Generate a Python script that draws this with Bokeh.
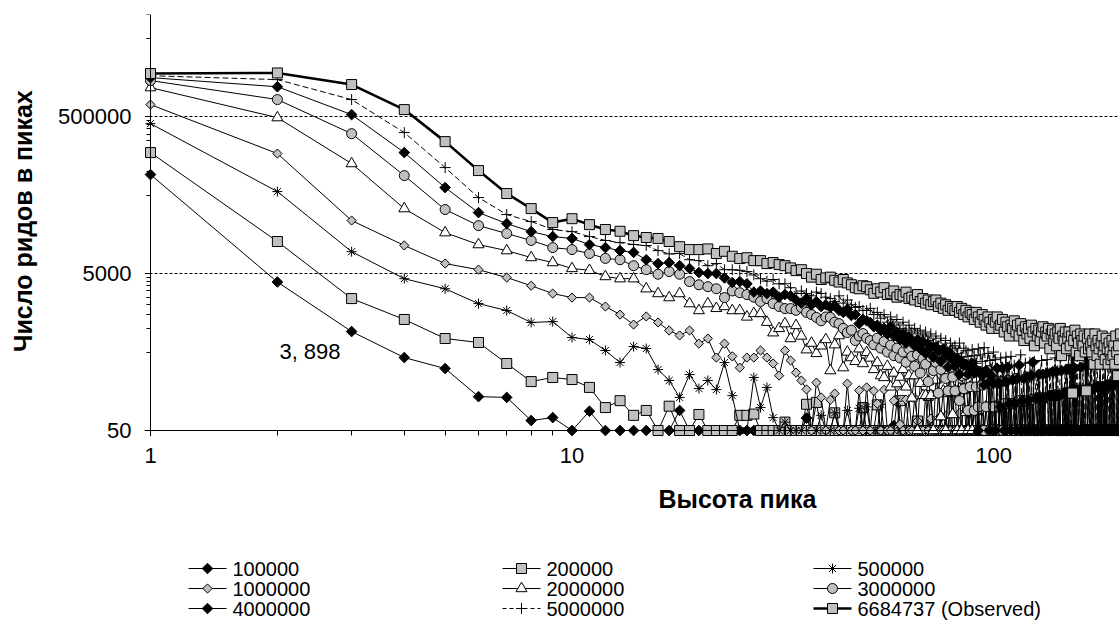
import numpy as np
from bokeh.plotting import figure
from bokeh.models import Range1d, FixedTicker, CustomJSTickFormatter, Label, LogAxis
from bokeh.layouts import column, row
from bokeh.embed import file_html
from bokeh.resources import INLINE
from bokeh.core.properties import value

# ---------------- data ----------------
heights = list(range(1, 201))

s_100000 = [
    91200, 3898, 912, 425, 308, 135, 132, 67, 73, 50,
    88, 50, 50, 50, 50, 50, 50, 90, 50, 50,
    50, 50, 50, 50, 50, 50, 50, 50, 50, 50,
    50, 50, 50, 50, 50, 72, 50, 50, 50, 50,
    50, 50, 50, 50, 50, 50, 50, 50, 50, 50,
    50, 50, 50, 50, 50, 50, 50, 58, 50, 50,
    50, 50, 50, 50, 50, 50, 50, 50, 50, 50,
    50, 50, 50, 50, 75, 50, 50, 50, 50, 50,
    50, 50, 50, 50, 50, 50, 50, 88, 50, 50,
    50, 50, 50, 50, 50, 50, 50, 50, 50, 50,
    50, 50, 50, 104, 50, 50, 50, 50, 50, 50,
    50, 50, 50, 50, 50, 50, 50, 50, 50, 50,
    50, 50, 50, 50, 50, 50, 50, 50, 50, 50,
    131, 50, 50, 50, 50, 50, 50, 50, 50, 50,
    50, 50, 50, 50, 50, 50, 50, 50, 50, 50,
    50, 50, 50, 50, 50, 50, 157, 50, 50, 50,
    50, 50, 50, 50, 50, 50, 50, 50, 50, 50,
    50, 50, 50, 50, 50, 50, 50, 50, 50, 50,
    50, 50, 183, 50, 50, 50, 50, 50, 50, 50,
    50, 50, 50, 50, 50, 50, 50, 50, 50, 50,
]
s_200000 = [
    174000, 12800, 2400, 1300, 743, 661, 357, 210, 237, 223,
    177, 98, 120, 78, 90, 50, 102, 50, 50, 80,
    50, 50, 50, 50, 78, 78, 81, 50, 50, 50,
    50, 64, 50, 50, 50, 108, 50, 114, 50, 50,
    50, 84, 50, 50, 50, 50, 50, 50, 98, 50,
    50, 50, 106, 50, 50, 50, 50, 50, 50, 120,
    50, 50, 50, 50, 50, 66, 50, 50, 50, 140,
    50, 50, 50, 50, 50, 50, 50, 156, 50, 50,
    50, 50, 50, 50, 170, 50, 50, 50, 50, 50,
    50, 92, 50, 50, 50, 50, 50, 50, 50, 100,
    50, 50, 50, 50, 50, 50, 50, 50, 109, 50,
    50, 50, 50, 50, 50, 50, 50, 118, 50, 50,
    50, 50, 50, 50, 50, 50, 50, 50, 50, 130,
    50, 50, 50, 50, 50, 50, 50, 50, 139, 50,
    50, 50, 50, 50, 50, 50, 50, 50, 50, 150,
    50, 50, 50, 50, 155, 50, 50, 50, 50, 50,
    50, 50, 163, 50, 50, 50, 50, 50, 50, 50,
    50, 50, 50, 50, 50, 50, 50, 50, 50, 180,
    50, 50, 50, 50, 50, 50, 50, 50, 50, 50,
    50, 50, 50, 50, 50, 50, 50, 50, 50, 50,
]
s_500000 = [
    407000, 55400, 9500, 4300, 3200, 2070, 1690, 1190, 1220, 766,
    722, 523, 367, 587, 554, 299, 217, 132, 258, 171,
    217, 166, 367, 139, 50, 50, 237, 98, 177, 73,
    50, 64, 50, 50, 50, 72, 50, 50, 78, 50,
    50, 84, 50, 50, 90, 50, 50, 96, 50, 100,
    50, 50, 50, 108, 50, 50, 50, 50, 118, 50,
    50, 50, 126, 50, 50, 50, 50, 50, 50, 50,
    142, 50, 50, 50, 50, 50, 50, 50, 158, 50,
    50, 50, 50, 50, 50, 50, 50, 50, 50, 180,
    50, 50, 50, 50, 50, 50, 50, 50, 50, 50,
    50, 50, 50, 50, 50, 50, 107, 50, 50, 50,
    50, 50, 50, 50, 50, 50, 50, 50, 50, 50,
    50, 50, 50, 124, 50, 50, 50, 50, 50, 50,
    50, 50, 50, 50, 50, 50, 50, 50, 50, 50,
    50, 50, 50, 50, 50, 50, 50, 148, 50, 50,
    50, 50, 50, 50, 50, 50, 50, 50, 50, 50,
    50, 50, 50, 50, 50, 50, 50, 50, 50, 50,
    50, 50, 50, 50, 50, 50, 177, 50, 50, 50,
    50, 50, 50, 50, 50, 50, 50, 50, 50, 50,
    50, 50, 50, 50, 50, 50, 50, 50, 50, 50,
]
s_1000000 = [
    711000, 169000, 23700, 11400, 6700, 5600, 4450, 3500, 2780, 2470,
    2470, 1900, 1500, 1120, 1420, 1190, 940, 813, 940, 640,
    743, 425, 640, 440, 316, 425, 425, 523, 425, 357,
    250, 523, 390, 273, 217, 167, 50, 204, 132, 50,
    123, 148, 50, 50, 198, 50, 50, 162, 50, 177,
    50, 160, 110, 50, 165, 50, 50, 120, 180, 60,
    50, 124, 50, 50, 130, 66, 50, 50, 138, 50,
    71, 50, 50, 148, 50, 50, 77, 50, 50, 160,
    50, 50, 83, 50, 50, 50, 87, 50, 50, 90,
    50, 50, 50, 94, 50, 50, 50, 50, 99, 50,
    50, 50, 50, 50, 105, 50, 50, 50, 50, 50,
    50, 50, 50, 50, 50, 50, 50, 50, 50, 120,
    50, 50, 50, 50, 50, 50, 50, 50, 50, 50,
    50, 50, 50, 50, 50, 50, 50, 50, 50, 140,
    50, 50, 50, 50, 50, 50, 50, 50, 50, 50,
    50, 50, 50, 50, 50, 50, 50, 50, 50, 50,
    50, 50, 50, 50, 50, 50, 50, 50, 50, 50,
    50, 50, 50, 50, 50, 50, 50, 50, 50, 50,
    50, 50, 50, 50, 50, 50, 50, 50, 50, 50,
    50, 50, 50, 50, 50, 50, 50, 50, 50, 50,
]
s_2000000 = [
    1170000, 485000, 126000, 33600, 16600, 11700, 9800, 8000, 6900, 5800,
    5500, 4580, 4300, 4300, 3200, 2780, 2470, 2780, 2070, 1690,
    2070, 1800, 1900, 1690, 1690, 1400, 1550, 1550, 1200, 880,
    1000, 1150, 743, 1090, 800, 535, 650, 480, 600, 722,
    290, 620, 810, 316, 500, 425, 380, 550, 357, 495,
    420, 300, 367, 250, 237, 330, 180, 270, 198, 240,
    300, 180, 250, 130, 250, 50, 200, 140, 140, 210,
    140, 50, 220, 150, 75, 160, 50, 160, 240, 80,
    160, 50, 170, 50, 170, 85, 50, 180, 50, 90,
    90, 50, 190, 50, 50, 100, 50, 200, 50, 50,
    100, 50, 50, 210, 50, 50, 110, 50, 50, 50,
    50, 110, 50, 50, 50, 120, 50, 50, 50, 50,
    50, 50, 125, 50, 50, 50, 50, 50, 130, 50,
    50, 50, 50, 50, 50, 50, 50, 50, 50, 140,
    50, 50, 50, 50, 50, 50, 50, 50, 50, 50,
    50, 50, 50, 50, 50, 50, 50, 50, 50, 160,
    50, 50, 50, 50, 50, 50, 50, 50, 50, 50,
    50, 50, 50, 50, 50, 50, 50, 50, 50, 50,
    50, 50, 50, 50, 50, 50, 50, 50, 50, 50,
    50, 50, 50, 50, 50, 50, 50, 50, 50, 50,
]
s_3000000 = [
    1440000, 824000, 303000, 88600, 32700, 20400, 16200, 13200, 10700, 10100,
    9000, 7800, 7500, 6300, 5600, 4900, 5300, 4900, 3950, 3600,
    3400, 3200, 2470, 3000, 2850, 2700, 2500, 2200, 2400, 2070,
    1900, 1790, 1790, 1700, 1850, 1600, 1500, 1380, 1250, 1400,
    1380, 1200, 1150, 1000, 885, 950, 700, 800, 860, 750,
    700, 620, 750, 560, 680, 500, 610, 450, 560, 420,
    500, 370, 550, 440, 330, 460, 270, 410, 350, 210,
    430, 290, 370, 150, 300, 380, 230, 160, 320, 240,
    160, 330, 120, 250, 170, 260, 90, 180, 270, 90,
    180, 100, 280, 190, 50, 100, 290, 50, 200, 100,
    50, 200, 50, 210, 50, 110, 50, 220, 50, 110,
    50, 50, 230, 50, 120, 50, 50, 120, 50, 50,
    240, 50, 50, 125, 50, 50, 50, 130, 50, 50,
    50, 130, 50, 50, 50, 50, 140, 50, 50, 50,
    50, 50, 140, 50, 50, 50, 50, 50, 150, 50,
    50, 50, 50, 50, 50, 155, 50, 50, 50, 50,
    50, 50, 50, 50, 50, 50, 50, 170, 50, 50,
    50, 50, 50, 50, 50, 50, 50, 50, 50, 50,
    50, 50, 50, 50, 185, 50, 50, 50, 50, 50,
    50, 50, 50, 50, 50, 50, 50, 50, 50, 50,
]
s_4000000 = [
    1570000, 1200000, 530000, 174000, 62300, 29900, 21700, 17100, 14800, 14000,
    11700, 10700, 9800, 9300, 7500, 6700, 6900, 6300, 5800, 5150,
    5000, 5000, 4400, 3850, 3950, 3700, 2900, 3000, 2780, 2900,
    2500, 2700, 2600, 2300, 2100, 2400, 2000, 2200, 1900, 2000,
    1850, 1950, 1700, 1600, 1750, 1460, 1500, 1150, 1300, 1250,
    1190, 1050, 1100, 950, 1000, 850, 1050, 800, 900, 720,
    850, 650, 780, 700, 600, 720, 550, 680, 480, 630,
    570, 430, 580, 520, 380, 540, 460, 320, 480, 400,
    330, 420, 260, 380, 340, 350, 260, 300, 360, 270,
    300, 50, 280, 250, 190, 290, 200, 50, 250, 200,
    50, 310, 200, 100, 310, 50, 210, 320, 110, 50,
    220, 110, 50, 230, 340, 50, 120, 230, 50, 240,
    120, 50, 250, 370, 50, 130, 50, 260, 130, 50,
    260, 50, 130, 270, 50, 140, 50, 280, 140, 50,
    280, 50, 140, 50, 290, 50, 150, 50, 300, 150,
    50, 300, 50, 150, 50, 310, 50, 160, 50, 160,
    320, 50, 160, 50, 50, 330, 50, 170, 50, 340,
    50, 170, 50, 350, 50, 50, 180, 50, 360, 50,
    180, 50, 50, 370, 50, 190, 50, 50, 190, 50,
    380, 50, 190, 50, 50, 390, 50, 200, 50, 50,
]
s_5000000 = [
    1660000, 1480000, 824000, 313000, 112000, 46500, 28200, 23000, 18200, 17100,
    14800, 13200, 12400, 11700, 11400, 9800, 8900, 9000, 7500, 7300,
    6300, 6700, 5600, 5600, 5500, 5300, 4800, 4300, 4000, 4200,
    3700, 3700, 3300, 2780, 3000, 2780, 2600, 2900, 2780, 2500,
    2400, 2200, 2600, 2100, 2300, 2000, 1850, 1900, 1700, 1690,
    1800, 1500, 1600, 1350, 1500, 1200, 1400, 1100, 1300, 1000,
    1200, 950, 1100, 900, 1000, 850, 950, 800, 900, 700,
    850, 650, 800, 600, 750, 550, 700, 500, 650, 560,
    600, 480, 650, 430, 560, 520, 440, 350, 540, 450,
    360, 550, 460, 380, 570, 290, 480, 390, 300, 500,
    400, 310, 50, 420, 320, 210, 430, 50, 330, 440,
    220, 340, 50, 230, 350, 460, 50, 240, 360, 120,
    50, 370, 250, 50, 380, 130, 250, 50, 260, 390,
    130, 50, 270, 400, 50, 270, 140, 50, 280, 420,
    140, 290, 50, 430, 290, 50, 150, 300, 50, 300,
    450, 50, 310, 150, 50, 310, 160, 470, 50, 320,
    160, 50, 330, 50, 165, 330, 50, 340, 170, 50,
    340, 50, 350, 175, 50, 350, 180, 50, 360, 50,
    180, 360, 50, 370, 50, 190, 370, 50, 380, 190,
    50, 380, 50, 390, 195, 50, 390, 50, 200, 400,
]
s_observed = [
    1770000, 1800000, 1280000, 614000, 240000, 102600, 52300, 33600, 22300, 25000,
    21000, 18200, 17300, 15200, 14400, 14000, 12800, 11000, 10100, 10100,
    10300, 9000, 9600, 8300, 7760, 7950, 7300, 7300, 6700, 6900,
    6500, 6300, 5900, 5450, 5600, 5000, 4500, 4900, 4200, 4400,
    4500, 4100, 3900, 4200, 3800, 3600, 3300, 3200, 3500, 3400,
    3100, 2800, 3200, 2900, 3300, 2700, 2800, 3000, 2500, 2700,
    2600, 2900, 2400, 2500, 2300, 2700, 2200, 2400, 2100, 2300,
    2000, 2200, 2300, 1900, 2100, 1800, 2000, 1700, 1900, 1800,
    1700, 1900, 1600, 1800, 1500, 1700, 1400, 1600, 1500, 1300,
    1600, 1400, 1200, 1500, 1300, 1100, 1400, 1200, 1000, 1300,
    1200, 1400, 1000, 1100, 1300, 900, 1200, 1050, 800, 1100,
    1000, 1250, 900, 1100, 800, 1150, 950, 700, 1050, 850,
    1000, 750, 1100, 900, 600, 1000, 800, 950, 700, 900,
    1050, 650, 900, 800, 1000, 550, 850, 950, 700, 850,
    600, 900, 750, 1000, 450, 800, 700, 900, 550, 750,
    900, 600, 800, 150, 700, 950, 500, 800, 650, 450,
    850, 700, 600, 800, 500, 160, 750, 550, 850, 600,
    500, 700, 350, 850, 600, 450, 700, 550, 350, 650,
    800, 500, 600, 400, 750, 550, 350, 650, 500, 400,
    700, 450, 600, 350, 800, 500, 250, 600, 400, 850,
]

series_names = ["100000", "200000", "500000", "1000000", "2000000",
                "3000000", "4000000", "5000000", "6684737 (Observed)"]
series_values = [s_100000, s_200000, s_500000, s_1000000, s_2000000,
                 s_3000000, s_4000000, s_5000000, s_observed]

x_major = [1, 10, 100]
x_minor = [2, 3, 4, 5, 6, 7, 8, 9, 20, 30, 40, 50, 60, 70, 80, 90, 200]
y_major = [50, 5000, 500000]
y_minor = [500, 1000, 1500, 2000, 2500, 3000, 3500, 4000, 4500,
           50000, 100000, 150000, 200000, 250000, 300000, 350000, 400000, 450000,
           5000000, 10000000]

x_title = "Высота пика"
y_title = "Число ридов в пиках"
point_label = "3, 898"

# ---------------- styles ----------------
GRAY = "#C0C0C0"
D45 = np.pi / 4
styles = [
    dict(marker="square", size=7.5, angle=D45, fill="black", lw=1, dash="solid"),
    dict(marker="square", size=10, angle=0, fill=GRAY, lw=1, dash="solid"),
    dict(marker="asterisk", size=10, angle=0, fill=None, lw=1, dash="solid"),
    dict(marker="square", size=6.5, angle=D45, fill=GRAY, lw=1, dash="solid"),
    dict(marker="triangle", size=11, angle=0, fill="white", lw=1, dash="solid"),
    dict(marker="circle", size=10, angle=0, fill=GRAY, lw=1, dash="solid"),
    dict(marker="square", size=7.5, angle=D45, fill="black", lw=1, dash="solid"),
    dict(marker="cross", size=11, angle=0, fill=None, lw=1, dash="6 3"),
    dict(marker="square", size=10, angle=0, fill=GRAY, lw=2.6, dash="solid"),
]

FONT = "Liberation Sans"

def strip(w, h):
    f = figure(width=w, height=h, x_range=Range1d(0, w), y_range=Range1d(h, 0),
               min_border=0, output_backend="svg", toolbar_location=None, title=None,
               x_axis_location=None, y_axis_location=None)
    f.grid.visible = False
    f.outline_line_color = None
    return f

# ---------------- main plot ----------------
# the frame is a few pixels larger than the axes box so that markers sitting
# on the axes are not cut; axis lines/ticks are pinned at x=1 and y=50.
p = figure(width=1079, height=486, x_axis_type="log", y_axis_type="log",
           x_range=Range1d(0.9677, 199.0), y_range=Range1d(41.93, 1e7),
           min_border_left=104, min_border_right=0, min_border_top=14,
           min_border_bottom=50, output_backend="svg", toolbar_location=None,
           title=None)
p.outline_line_color = None

for name, vals, st in zip(series_names, series_values, styles):
    p.line(heights, vals, line_color="black", line_width=st["lw"], line_dash=st["dash"])
    p.scatter(heights, vals, marker=st["marker"], size=st["size"], angle=st["angle"],
              fill_color=st["fill"], line_color="black", line_width=1)

# label-only axes at the frame edges
p.xaxis.ticker = FixedTicker(ticks=x_major, minor_ticks=[])
p.yaxis.ticker = FixedTicker(ticks=y_major, minor_ticks=[])
p.xaxis.formatter = CustomJSTickFormatter(code="return String(Math.round(tick));")
p.yaxis.formatter = CustomJSTickFormatter(code="return String(Math.round(tick));")
for ax in (p.xaxis, p.yaxis):
    ax.axis_line_color = None
    ax.major_tick_line_color = None
    ax.minor_tick_line_color = None
    ax.major_tick_in = 0
    ax.major_tick_out = 0
    ax.minor_tick_in = 0
    ax.minor_tick_out = 0
    ax.major_label_text_font = FONT
    ax.major_label_text_font_size = "22px"
    ax.major_label_text_color = "black"
p.xaxis.major_label_standoff = 11
p.yaxis.major_label_standoff = 13

# line + tick axes pinned at x=1 / y=50
blank = "return '';"
xline = LogAxis(ticker=FixedTicker(ticks=x_major, minor_ticks=x_minor),
                formatter=CustomJSTickFormatter(code=blank),
                fixed_location=y_major[0], major_tick_in=0, major_tick_out=5,
                minor_tick_in=0, minor_tick_out=5, major_label_standoff=0,
                major_label_text_font_size="1px", axis_line_color="black",
                major_tick_line_color="black", minor_tick_line_color="black")
yline = LogAxis(ticker=FixedTicker(ticks=y_major, minor_ticks=y_minor),
                formatter=CustomJSTickFormatter(code=blank),
                fixed_location=x_major[0], major_tick_in=0, major_tick_out=5,
                minor_tick_in=0, minor_tick_out=4, major_label_standoff=0,
                major_label_text_font_size="1px", axis_line_color="black",
                major_tick_line_color="black", minor_tick_line_color="black")
p.add_layout(xline, "below")
p.add_layout(yline, "left")

p.xgrid.visible = False
p.ygrid.grid_line_color = "black"
p.ygrid.grid_line_dash = "3 2"
p.ygrid.grid_line_width = 1

p.add_layout(Label(x=heights[1], y=s_100000[1], x_offset=2, y_offset=-69,
                   text=point_label, text_font=FONT, text_font_size="22px",
                   text_align="left", text_baseline="middle", text_color="black"))

# ---------------- y title strip ----------------
yt = strip(40, 486)
yt.text([22], [238], text=[y_title], angle=np.pi / 2, text_font=value(FONT),
        text_font_size="25px", text_font_style="bold", text_align="center",
        text_baseline="middle", text_color="black")

# ---------------- bottom strip: x title + legend ----------------
lg = strip(1119, 135)
lg.text([737], [12], text=[x_title], text_font=value(FONT), text_font_size="25px",
        text_font_style="bold", text_align="center", text_baseline="middle",
        text_color="black")

col_x = [188, 502, 813]
row_y = [82, 102, 122]
for i, (name, st) in enumerate(zip(series_names, styles)):
    x0 = col_x[i % 3]
    yc = row_y[i // 3]
    lg.line([x0, x0 + 38], [yc, yc], line_color="black", line_width=st["lw"],
            line_dash="4 3" if st["dash"] != "solid" else "solid")
    lg.scatter([x0 + 19], [yc], marker=st["marker"], size=st["size"], angle=st["angle"],
               fill_color=st["fill"], line_color="black", line_width=1)
    lg.text([x0 + 44], [yc], text=[name], text_font=value(FONT), text_font_size="20px",
            text_baseline="middle", text_align="left", text_color="black")

layout = column(row(yt, p, spacing=0), lg, spacing=0)
open("out.html", "w").write(file_html(layout, INLINE))
